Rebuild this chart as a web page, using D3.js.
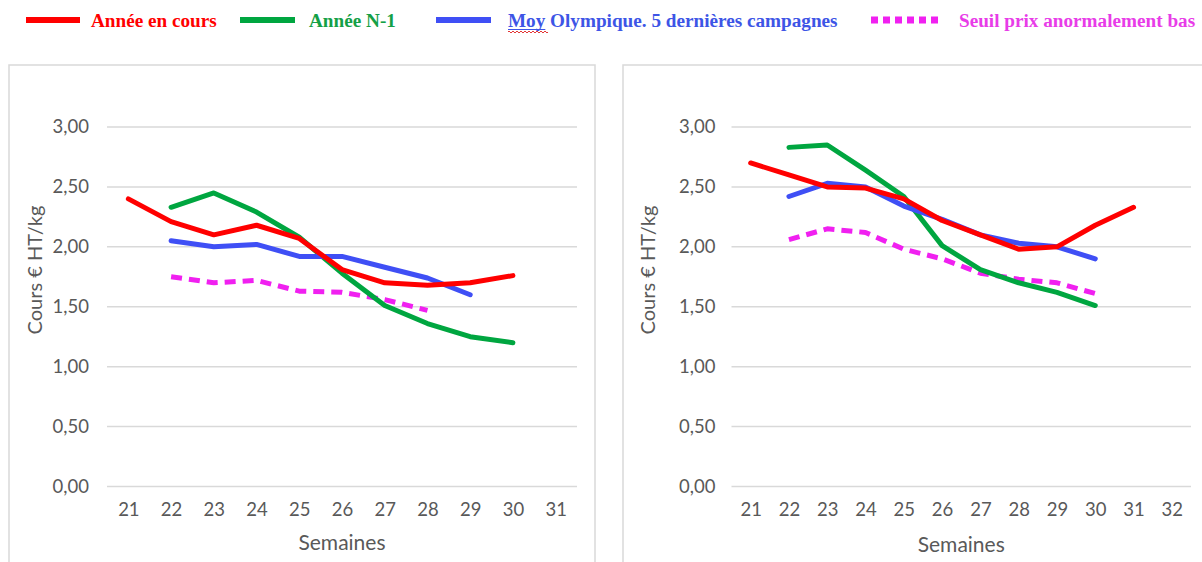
<!DOCTYPE html>
<html><head><meta charset="utf-8">
<script src="https://cdn.jsdelivr.net/npm/d3@7"></script>
<style>
body{margin:0;background:#fff;}
svg{display:block;}
</style></head>
<body>
<svg id="c" width="1202" height="562"></svg>
<script>
// ---- Data ----
const weeksLeft = [21,22,23,24,25,26,27,28,29,30,31];
const weeksRight = [21,22,23,24,25,26,27,28,29,30,31,32];
const yTicks = [0,0.5,1,1.5,2,2.5,3];

// Left panel
const leftCurrentWeeks = [21,22,23,24,25,26,27,28,29,30];
const leftCurrent = [2.40,2.21,2.10,2.18,2.07,1.81,1.70,1.68,1.70,1.76];
const leftPrevWeeks = [22,23,24,25,26,27,28,29,30];
const leftPrev = [2.33,2.45,2.29,2.08,1.78,1.51,1.36,1.25,1.20];
const leftOlyWeeks = [22,23,24,25,26,27,28,29];
const leftOly = [2.05,2.00,2.02,1.92,1.92,1.83,1.74,1.60];
const leftSeuilWeeks = [22,23,24,25,26,27,28];
const leftSeuil = [1.75,1.70,1.72,1.63,1.62,1.56,1.47];

// Right panel
const rightCurrentWeeks = [21,22,23,24,25,26,27,28,29,30,31];
const rightCurrent = [2.70,2.60,2.50,2.49,2.40,2.22,2.10,1.98,2.00,2.18,2.33];
const rightPrevWeeks = [22,23,24,25,26,27,28,29,30];
const rightPrev = [2.83,2.85,2.64,2.42,2.01,1.81,1.70,1.62,1.51];
const rightOlyWeeks = [22,23,24,25,26,27,28,29,30];
const rightOly = [2.42,2.53,2.50,2.34,2.23,2.10,2.03,2.00,1.90];
const rightSeuilWeeks = [22,23,24,25,26,27,28,29,30];
const rightSeuil = [2.06,2.15,2.12,1.98,1.90,1.78,1.73,1.70,1.61];

const seriesNames = ["Année en cours","Année N-1","Moy Olympique. 5 dernières campagnes","Seuil prix anormalement bas"];
const seriesColors = ["#ff0000","#00a640","#3f4ff5","#f020f0"];
const legendTextColors = ["#ff0000","#14a046","#3d55e6","#e83ce8"];
const yTitle = "Cours € HT/kg";
const xTitle = "Semaines";

// ---- Drawing ----
const svg = d3.select("#c");
const fmt = v => d3.format(".2f")(v).replace(".", ",");
const sans = "Lato, 'Open Sans', sans-serif";

// legend
const leg = svg.append("g");
const legItems = [
  {x1:26,x2:80,tx:91},
  {x1:240,x2:295,tx:309},
  {x1:436,x2:491,tx:508},
  {x1:871,x2:942,tx:959}
];
legItems.forEach((it,i)=>{
  const ln = leg.append("line").attr("x1",it.x1).attr("x2",it.x2).attr("y1",20).attr("y2",20)
    .attr("stroke",seriesColors[i]).attr("stroke-width", i===3?7:6);
  if(i===3) ln.attr("stroke-dasharray","7,5");
  const t = leg.append("text").attr("x",it.tx).attr("y",27)
    .attr("font-family","'Liberation Serif', 'DejaVu Serif', serif").attr("font-weight","bold")
    .attr("font-size",19.2).attr("fill",legendTextColors[i]).text(seriesNames[i]);
  if(i===2){
    const w = t.node().getSubStringLength(0,3);
    leg.append("line").attr("x1",it.tx).attr("x2",it.tx+w).attr("y1",29.5).attr("y2",29.5)
      .attr("stroke",legendTextColors[i]).attr("stroke-width",1.2);
    let d = `M${it.tx},32`;
    for(let x=it.tx; x<it.tx+w-1; x+=4){ d += ` q1,-2 2,0 q1,2 2,0`; }
    leg.append("path").attr("d",d).attr("fill","none").attr("stroke","#e02020").attr("stroke-width",0.9);
  }
});

function panel(cfg){
  const g = svg.append("g");
  // border
  g.append("rect").attr("x",cfg.bx).attr("y",65).attr("width",cfg.bw).attr("height",520)
    .attr("fill","none").attr("stroke","#d9d9d9").attr("stroke-width",1.5);
  const x = d3.scalePoint().domain(cfg.weeks).range([cfg.px0,cfg.px1]).padding(0.5);
  const y = d3.scaleLinear().domain([0,3]).range([486.5,127]);
  // gridlines
  g.append("g").selectAll("line").data(yTicks).join("line")
    .attr("x1",cfg.px0).attr("x2",cfg.px1).attr("y1",d=>y(d)).attr("y2",d=>y(d))
    .attr("stroke","#d9d9d9").attr("stroke-width",1.5);
  // y axis
  const ya = g.append("g").attr("transform",`translate(${cfg.px0},0)`)
    .call(d3.axisLeft(y).tickValues(yTicks).tickFormat(fmt).tickSize(0).tickPadding(cfg.ypad));
  ya.select(".domain").remove();
  ya.selectAll("text").attr("font-family",sans).attr("font-size",18.5).attr("fill","#595959");
  // x axis
  const xa = g.append("g").attr("transform",`translate(0,${y(0)})`)
    .call(d3.axisBottom(x).tickSize(0).tickPadding(16));
  xa.select(".domain").remove();
  xa.selectAll("text").attr("font-family",sans).attr("font-size",18.5).attr("fill","#595959");
  // titles
  g.append("text").attr("x",(cfg.px0+cfg.px1)/2).attr("y",cfg.xty).attr("text-anchor","middle")
    .attr("font-family",sans).attr("font-size",21).attr("fill","#595959").text(xTitle);
  g.append("text").attr("transform",`translate(${cfg.ytx},270) rotate(-90)`).attr("text-anchor","middle")
    .attr("font-family",sans).attr("font-size",20).attr("fill","#595959").text(yTitle);
  // lines
  const line = d3.line().x(d=>x(d[0])).y(d=>y(d[1]));
  const data = cfg.series;
  [3,1,2,0].forEach(i=>{
    const s = data[i];
    const pts = s.w.map((w,k)=>[w,s.v[k]]);
    const p = g.append("path").attr("d",line(pts)).attr("fill","none")
      .attr("stroke",seriesColors[i]).attr("stroke-width",5)
      .attr("stroke-linejoin","round");
    if(i===3) p.attr("stroke-dasharray","11,7").attr("stroke-linecap","butt");
    else p.attr("stroke-linecap","round");
  });
}

panel({bx:9,bw:586,px0:107,px1:577,weeks:weeksLeft,ypad:18,xty:550,ytx:42,
  series:[{w:leftCurrentWeeks,v:leftCurrent},{w:leftPrevWeeks,v:leftPrev},{w:leftOlyWeeks,v:leftOly},{w:leftSeuilWeeks,v:leftSeuil}]});
panel({bx:623,bw:600,px0:731.5,px1:1191,weeks:weeksRight,ypad:16,xty:552,ytx:655,
  series:[{w:rightCurrentWeeks,v:rightCurrent},{w:rightPrevWeeks,v:rightPrev},{w:rightOlyWeeks,v:rightOly},{w:rightSeuilWeeks,v:rightSeuil}]});
</script>
</body></html>
